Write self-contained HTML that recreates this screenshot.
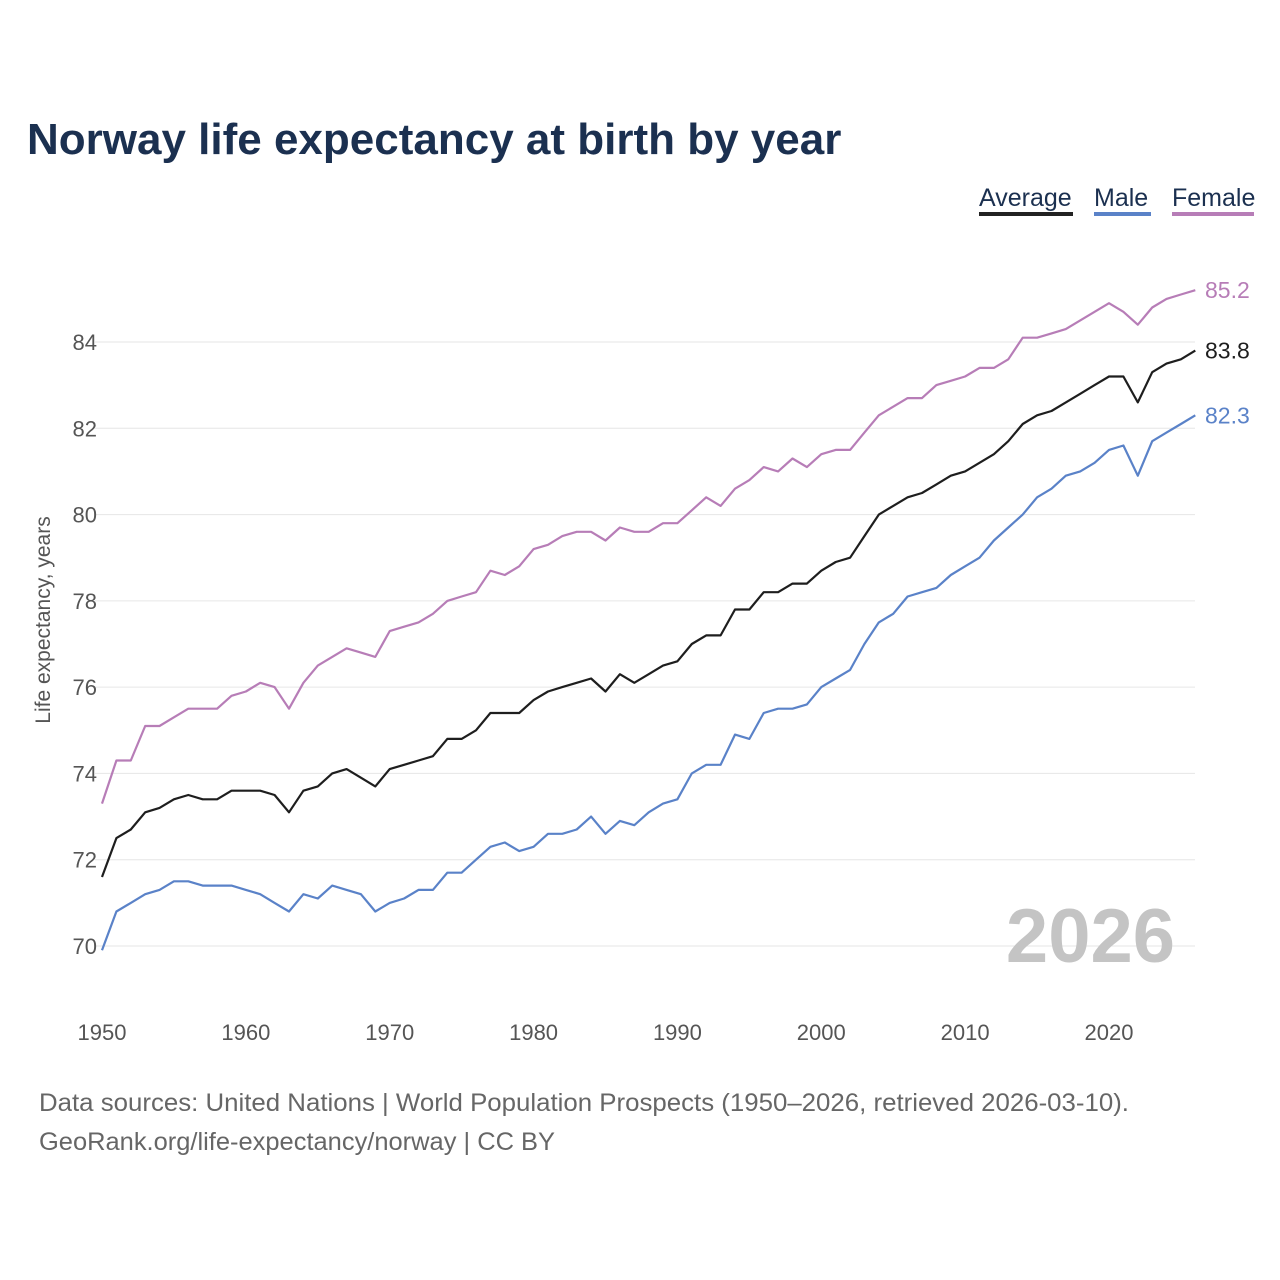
<!DOCTYPE html>
<html><head><meta charset="utf-8"><style>
body{margin:0;background:#fff;font-family:"Liberation Sans",sans-serif;}
svg{display:block}
</style></head><body>
<svg width="1280" height="1280" viewBox="0 0 1280 1280" id="chart">
<text x="27" y="154" font-size="44" font-weight="bold" fill="#1b3050">Norway life expectancy at birth by year</text>
<g font-size="25">
<g><text x="979" y="206" fill="#1b3050">Average</text><rect x="979" y="212" width="94" height="4" fill="#222"/></g>
<g><text x="1094" y="206" fill="#1b3050">Male</text><rect x="1094" y="212" width="57" height="4" fill="#5a82c8"/></g>
<g><text x="1172" y="206" fill="#1b3050">Female</text><rect x="1172" y="212" width="82" height="4" fill="#b77db7"/></g>
</g>
<g id="grid"></g>
<g id="yticks"></g>
<g id="xticks"></g>
<text transform="translate(50,620) rotate(-90)" text-anchor="middle" font-size="21" fill="#555">Life expectancy, years</text>
<text x="1175" y="962" text-anchor="end" font-size="76" font-weight="bold" fill="#c4c4c4">2026</text>
<g id="series"></g>
<text x="39" y="1111" font-size="25" fill="#666" textLength="1090" lengthAdjust="spacingAndGlyphs">Data sources: United Nations | World Population Prospects (1950–2026, retrieved 2026-03-10).</text>
<text x="39" y="1150" font-size="25" fill="#666" textLength="516" lengthAdjust="spacingAndGlyphs">GeoRank.org/life-expectancy/norway | CC BY</text>
</svg>
<script>
const startYear = 1950;
const yTicks = [70,72,74,76,78,80,82,84];
const xTicks = [1950,1960,1970,1980,1990,2000,2010,2020];
const female = [73.3,74.3,74.3,75.1,75.1,75.3,75.5,75.5,75.5,75.8,75.9,76.1,76.0,75.5,76.1,76.5,76.7,76.9,76.8,76.7,77.3,77.4,77.5,77.7,78.0,78.1,78.2,78.7,78.6,78.8,79.2,79.3,79.5,79.6,79.6,79.4,79.7,79.6,79.6,79.8,79.8,80.1,80.4,80.2,80.6,80.8,81.1,81.0,81.3,81.1,81.4,81.5,81.5,81.9,82.3,82.5,82.7,82.7,83.0,83.1,83.2,83.4,83.4,83.6,84.1,84.1,84.2,84.3,84.5,84.7,84.9,84.7,84.4,84.8,85.0,85.1,85.2];
const average = [71.6,72.5,72.7,73.1,73.2,73.4,73.5,73.4,73.4,73.6,73.6,73.6,73.5,73.1,73.6,73.7,74.0,74.1,73.9,73.7,74.1,74.2,74.3,74.4,74.8,74.8,75.0,75.4,75.4,75.4,75.7,75.9,76.0,76.1,76.2,75.9,76.3,76.1,76.3,76.5,76.6,77.0,77.2,77.2,77.8,77.8,78.2,78.2,78.4,78.4,78.7,78.9,79.0,79.5,80.0,80.2,80.4,80.5,80.7,80.9,81.0,81.2,81.4,81.7,82.1,82.3,82.4,82.6,82.8,83.0,83.2,83.2,82.6,83.3,83.5,83.6,83.8];
const male = [69.9,70.8,71.0,71.2,71.3,71.5,71.5,71.4,71.4,71.4,71.3,71.2,71.0,70.8,71.2,71.1,71.4,71.3,71.2,70.8,71.0,71.1,71.3,71.3,71.7,71.7,72.0,72.3,72.4,72.2,72.3,72.6,72.6,72.7,73.0,72.6,72.9,72.8,73.1,73.3,73.4,74.0,74.2,74.2,74.9,74.8,75.4,75.5,75.5,75.6,76.0,76.2,76.4,77.0,77.5,77.7,78.1,78.2,78.3,78.6,78.8,79.0,79.4,79.7,80.0,80.4,80.6,80.9,81.0,81.2,81.5,81.6,80.9,81.7,81.9,82.1,82.3];

const NS="http://www.w3.org/2000/svg";
const X = yr => 102 + (yr-1950)*(1109-102)/70;
const Y = v => 946 - (v-70)*(946-342)/14;
function mk(tag, attrs, parent, txt){const e=document.createElementNS(NS,tag);for(const k in attrs)e.setAttribute(k,attrs[k]);if(txt!==undefined)e.textContent=txt;parent.appendChild(e);return e;}
const grid=document.getElementById('grid'), yt=document.getElementById('yticks'), xt=document.getElementById('xticks'), ser=document.getElementById('series');
yTicks.forEach(v=>{
  const l=mk('line',{x1:95,x2:1195,y1:Y(v),y2:Y(v),stroke:'#e6e6e6','stroke-width':1},grid);
  
  
  const t=mk('text',{x:97,y:Y(v)+8,'text-anchor':'end','font-size':22,fill:'#555'},yt,String(v));
  
  
});
xTicks.forEach(yr=>{
  const t=mk('text',{x:X(yr),y:1040,'text-anchor':'middle','font-size':22,fill:'#555'},xt,String(yr));
  
  
});
function line(vals,color,name){
  const d=vals.map((v,i)=>(i?'L':'M')+X(startYear+i).toFixed(1)+','+Y(v).toFixed(1)).join(' ');
  const p=mk('path',{d:d,fill:'none',stroke:color,'stroke-width':2.2,'stroke-linejoin':'round'},ser);
  
  
  const last=vals[vals.length-1];
  const t=mk('text',{x:1205,y:Y(last)+8,'font-size':23,fill:color},ser,last.toFixed(1));
  
  
}
line(female,'#b77db7','female');
line(average,'#1e1e1e','average');
line(male,'#5a82c8','male');
</script>
</body></html>
